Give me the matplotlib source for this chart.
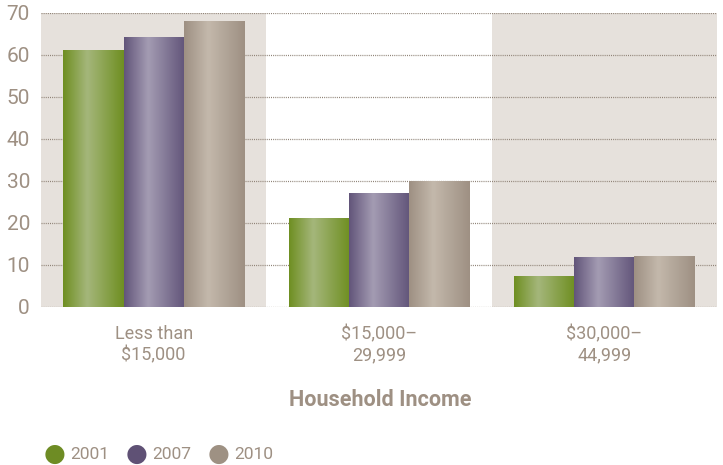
import matplotlib
matplotlib.use("Agg")
import matplotlib.pyplot as plt
import numpy as np
from matplotlib.colors import LinearSegmentedColormap

categories = ["Less than\n$15,000", "$15,000–\n29,999", "$30,000–\n44,999"]
years = ["2001", "2007", "2010"]
v2001 = [61.2, 21.2, 7.4]
v2007 = [64.3, 27.1, 11.9]
v2010 = [68.1, 30.0, 12.1]
yticks = [0, 10, 20, 30, 40, 50, 60, 70]

dark = ["#6f8f22", "#62557a", "#9e9083"]
light = ["#a4b67a", "#a39bb2", "#c3b8ab"]
legend_cols = ["#6e8c24", "#5f5175", "#9e9183"]
txt = "#9e9083"
band = "#e6e1dc"

plt.rcParams["font.family"] = ["Roboto", "DejaVu Sans"]

fig = plt.figure(figsize=(7.23, 4.65), dpi=100)
ax = fig.add_axes([41 / 723, 1 - 307 / 465, 676 / 723, 294 / 465])
ax.set_xlim(0, 3)
ax.set_ylim(0, 70)

# shaded bands behind groups 1 and 3
for i in (0, 2):
    ax.axvspan(i, i + 1, color=band, zorder=0, lw=0)

for y in yticks:
    ax.axhline(y, color="#8f8276", lw=0.9, ls=(0, (0.8, 0.9)), zorder=1)

w = 0.267
x = np.arange(3) + 0.5
series = [v2001, v2007, v2010]
grad = np.concatenate([np.linspace(0, 1, 40), np.linspace(1, 0, 60)])[None, :]
for j, vals in enumerate(series):
    cmap = LinearSegmentedColormap.from_list("g%d" % j, [dark[j], light[j]])
    bars = ax.bar(x + (j - 1) * w, vals, width=w, color=dark[j], zorder=2, lw=0)
    for b in bars:
        x0, y0 = b.get_x(), b.get_y()
        im = ax.imshow(grad, cmap=cmap, aspect="auto", zorder=3,
                       extent=[x0, x0 + b.get_width(), y0, y0 + b.get_height()],
                       interpolation="bilinear")
        im.set_clip_path(b)
ax.set_xlim(0, 3)
ax.set_ylim(0, 70)

for s in ax.spines.values():
    s.set_visible(False)
ax.set_yticks(yticks)
ax.tick_params(axis="y", length=0, labelsize=15, labelcolor=txt, pad=8)
ax.set_xticks(x)
ax.set_xticklabels(categories)
ax.tick_params(axis="x", length=0, labelsize=13, labelcolor=txt, pad=13)
for lab in ax.get_xticklabels():
    lab.set_linespacing(1.25)

fig.text(380 / 723, 1 - 400 / 465, "Household Income", ha="center", va="center",
         fontsize=15.5, fontweight="bold", color=txt)

for j, yr in enumerate(years):
    cx = (55 + 82 * j) / 723
    fig.text(cx, 1 - 454 / 465, "\u25cf", ha="center", va="center",
             fontsize=18, color=legend_cols[j], family="DejaVu Sans")
    fig.text(cx + 15 / 723, 1 - 454 / 465, yr, ha="left", va="center",
             fontsize=12.5, color=txt)

fig.savefig("out.png", dpi=100)
